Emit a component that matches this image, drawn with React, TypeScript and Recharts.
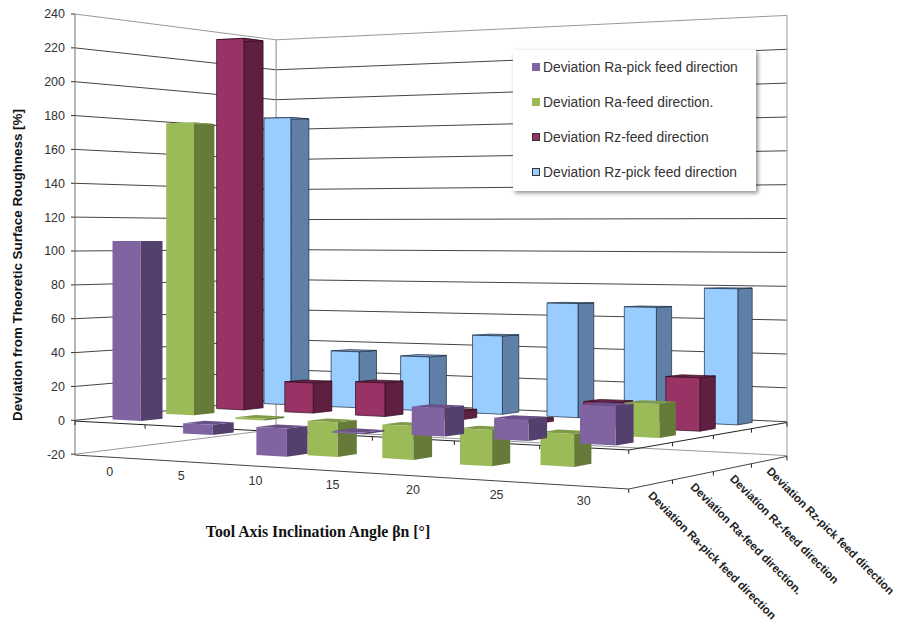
import { BarChart, Bar, XAxis, YAxis, CartesianGrid } from "recharts";

const categories = ["0", "5", "10", "15", "20", "25", "30"];
const yTicks = [-20, 0, 20, 40, 60, 80, 100, 120, 140, 160, 180, 200, 220, 240];

const raPick = [106, -6, -16, -1, 15.6, 11.5, 20.5];
const raFeed = [178, -1, -20.3, -19.5, -20.5, -18.3, 18.5];
const rzFeed = [233, 18.6, 20.3, 5, 2, 14, 30];
const rzPick = [185.7, 35.6, 33.8, 48, 68.7, 67.3, 79];

const depthLabels = [
  "Deviation Ra-pick feed direction",
  "Deviation Ra-feed direction.",
  "Deviation Rz-feed direction",
  "Deviation Rz-pick feed direction",
];

const data = categories.map((c, i) => ({
  cat: c,
  raPick: raPick[i],
  raFeed: raFeed[i],
  rzFeed: rzFeed[i],
  rzPick: rzPick[i],
}));

// back row first so the front rows paint over it
const series = [
  { key: "rzPick", row: 3, front: "#99ccff", side: "#5f7fa6", top: "#7fa6cf", edge: "#1c2b40" },
  { key: "rzFeed", row: 2, front: "#993366", side: "#5f1f40", top: "#6e2549", edge: "#2c0b1d" },
  { key: "raFeed", row: 1, front: "#9bbb59", side: "#667a3a", top: "#7f9a48", edge: "none" },
  { key: "raPick", row: 0, front: "#8064a2", side: "#54406c", top: "#6a5088", edge: "none" },
];

const legendItems = [
  { label: "Deviation Ra-pick feed direction", color: "#8064a2", edge: "#8064a2" },
  { label: "Deviation Ra-feed direction.", color: "#9bbb59", edge: "#9bbb59" },
  { label: "Deviation Rz-feed direction", color: "#993366", edge: "#333" },
  { label: "Deviation Rz-pick feed direction", color: "#99ccff", edge: "#333" },
];

const PLOT_L = 75;
const PLOT_T = 14;
const PLOT_W = 553;
const PLOT_H = 441;

// perspective of the 3D box: u along categories, h up the value axis, d into the depth
function project(u: number, h: number, d: number): [number, number] {
  const w = 1 - 0.13 * u + 0.13 * d;
  return [(75 + 472 * u + 237 * d + 3 * u * d) / w, (455 - 29.6 * u + 31 * d - 441 * h) / w];
}

const toU = (x: number) => (x - PLOT_L) / PLOT_W;
const toH = (y: number) => (PLOT_T + PLOT_H - y) / PLOT_H;
const hOf = (v: number) => (v + 20) / 260;

function line(points: [number, number, number][]) {
  return points
    .map((p, i) => {
      const [x, y] = project(p[0], p[1], p[2]);
      return `${i ? "L" : "M"}${x.toFixed(1)} ${y.toFixed(1)}`;
    })
    .join(" ");
}

const poly = (points: [number, number, number][]) => line(points) + " Z";

function Box3D(props: any) {
  const { x, y, width, height, row, front, side, top, edge } = props;
  if (!width) return null;
  const u0 = toU(x);
  const u1 = toU(x + width);
  const h1 = toH(Math.min(y, y + height));
  const h0 = toH(Math.max(y, y + height));
  const d0 = (row + 0.3) * 0.25;
  const d1 = (row + 0.7) * 0.25;
  return (
    <g stroke={edge} strokeWidth={0.7} strokeLinejoin="round">
      <path d={poly([[u1, h0, d0], [u1, h0, d1], [u1, h1, d1], [u1, h1, d0]])} fill={side} />
      <path d={poly([[u0, h1, d0], [u1, h1, d0], [u1, h1, d1], [u0, h1, d1]])} fill={top} />
      <path d={poly([[u0, h0, d0], [u1, h0, d0], [u1, h1, d0], [u0, h1, d0]])} fill={front} />
    </g>
  );
}

function GridLine(props: any) {
  const h = toH(props.y1);
  const isTop = h > 0.99;
  return (
    <g fill="none" strokeWidth={1}>
      <path d={line([[0, h, 0], [0, h, 1], [1, h, 1]])} stroke={h < 0.01 || isTop ? "#999" : "#444"} />
      {/* the corner between the two walls sits behind the bars */}
      {isTop && <path d={line([[0, 0, 1], [0, 1, 1]])} stroke="#888" />}
    </g>
  );
}

function XTick(props: any) {
  const { x, payload } = props;
  const [px, py] = project(toU(x), 0, 0);
  return (
    <text x={px} y={py + 18.5} textAnchor="middle" fontSize={12.5} fill="#333" fontFamily="Liberation Sans">
      {payload.value}
    </text>
  );
}

function Frame() {
  const h0 = hOf(0);
  const tick = (u: number, h: number, d: number, dx: number, dy: number) => {
    const [x, y] = project(u, h, d);
    return <path key={`${u}-${h}-${d}`} d={`M${x} ${y} l${dx} ${dy}`} stroke="#222" fill="none" />;
  };
  return (
    <g>
      {/* wall uprights */}
      <path d={line([[0, 0, 0], [0, 1, 0]])} stroke="#888" strokeWidth={1.2} fill="none" />
      <path d={line([[1, 0, 1], [1, 1, 1]])} stroke="#aaa" strokeWidth={1.2} fill="none" />
      {/* floor at the axis minimum */}
      <path d={line([[0, 0, 0], [1, 0, 0], [1, 0, 1]])} stroke="#444" fill="none" />
      {/* zero plane edges */}
      <path d={line([[0, h0, 0], [1, h0, 0], [1, h0, 1]])} stroke="#222" fill="none" />
      {categories.map((_, i) => tick(i / 7, h0, 0, 0, 4))}
      {tick(1, h0, 0, 0, 4)}
      {tick(1, 0, 0, 0, 4)}
      {[0.25, 0.5, 0.75, 1].map((d) => tick(1, h0, d, 0, 4))}
      {[0.25, 0.5, 0.75, 1].map((d) => tick(1, 0, d, 0, 4))}
      {depthLabels.map((label, i) => {
        const [x, y] = project(1, 0, (i + 0.5) * 0.25);
        return (
          <text
            key={label}
            x={x - 3.5}
            y={y + 12}
            transform={`rotate(45 ${x - 3.5} ${y + 12})`}
            fontSize={11.5}
            fontWeight="bold"
            fill="#222"
            fontFamily="Liberation Sans"
          >
            {label}
          </text>
        );
      })}
      <text
        x={18}
        y={265}
        transform="rotate(-90 18 265)"
        dy={4}
        textAnchor="middle"
        fontSize={13.4}
        fontWeight="bold"
        fill="#111"
        fontFamily="Liberation Sans"
      >
        Deviation from Theoretic Surface Roughness [%]
      </text>
      <text
        x={318}
        y={537}
        textAnchor="middle"
        fontSize={15.8}
        fontWeight="bold"
        fill="#111"
        fontFamily="Liberation Serif"
      >
        Tool Axis Inclination Angle βn [°]
      </text>
    </g>
  );
}

export default function App() {
  return (
    <div style={{ position: "absolute", left: 0, top: 0, width: 897, height: 628, overflow: "hidden" }}>
      <BarChart
        width={897}
        height={628}
        data={data}
        barCategoryGap="30%"
        margin={{ top: PLOT_T, left: 0, right: 897 - PLOT_L - PLOT_W, bottom: 143 }}
      >
        <CartesianGrid vertical={false} horizontal={(p: any) => <GridLine key={p.key} {...p} />} xAxisId="rzPick" syncWithTicks />
        <YAxis
          width={PLOT_L}
          domain={[-20, 240]}
          ticks={yTicks}
          interval={0}
          tick={{ fontSize: 12.5, fill: "#333", fontFamily: "Liberation Sans" }}
          tickSize={4}
          tickMargin={6}
          tickLine={{ stroke: "#333" }}
          axisLine={false}
        />
        {series.map((s, i) => (
          <XAxis
            key={s.key}
            xAxisId={s.key}
            dataKey="cat"
            height={30}
            hide={i !== 0}
            axisLine={false}
            tickLine={false}
            interval={0}
            tick={<XTick />}
          />
        ))}
        {series.map((s) => (
          <Bar
            key={s.key}
            dataKey={s.key}
            xAxisId={s.key}
            isAnimationActive={false}
            shape={(p: any) => <Box3D {...p} row={s.row} front={s.front} side={s.side} top={s.top} edge={s.edge} />}
          />
        ))}
        <Frame />
      </BarChart>
      <div
        style={{
          position: "absolute",
          left: 513,
          top: 50,
          width: 243,
          height: 141,
          background: "#fff",
          boxShadow: "2px 2px 4px rgba(0,0,0,0.45)",
          fontFamily: "Liberation Sans",
          fontSize: 13.8,
          color: "#333",
        }}
      >
        {legendItems.map((item, i) => (
          <div key={item.label} style={{ position: "absolute", left: 19, top: 9.5 + i * 35.2, whiteSpace: "pre", lineHeight: "15px" }}>
            <span
              style={{
                display: "inline-block",
                width: 6,
                height: 6,
                marginRight: 3,
                verticalAlign: "1px",
                background: item.color,
                border: `1px solid ${item.edge}`,
              }}
            />
            {item.label}
          </div>
        ))}
      </div>
    </div>
  );
}
